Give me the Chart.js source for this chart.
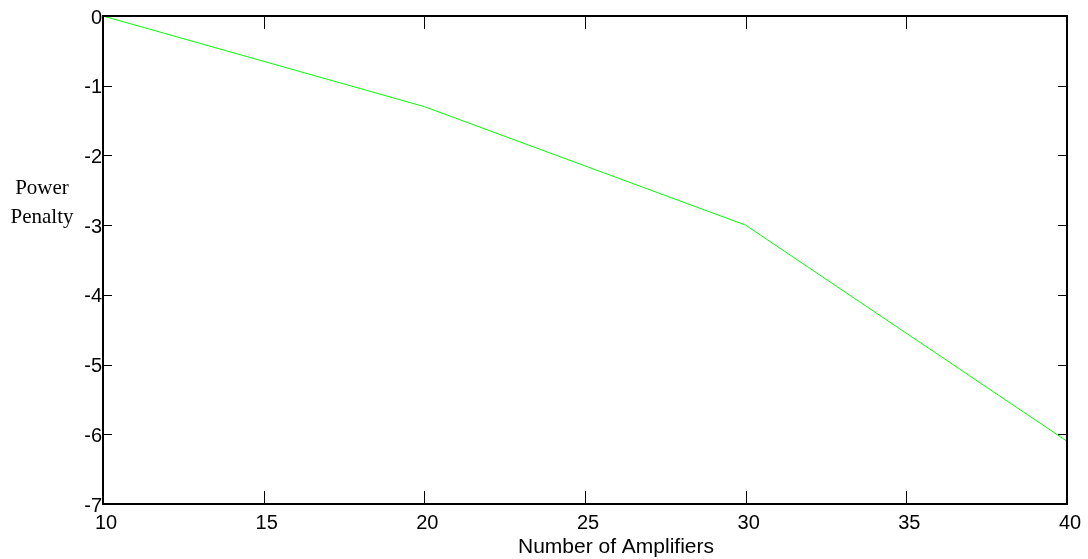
<!DOCTYPE html>
<html><head><meta charset="utf-8">
<script src="https://cdn.jsdelivr.net/npm/chart.js@4/dist/chart.umd.min.js"></script>
<style>html,body{margin:0;padding:0;background:#fff}#wrap{width:1088px;height:559px}</style>
</head><body><div id="wrap"><canvas id="c" width="1088" height="559"></canvas></div>
<script>
const amplifiers = [10, 20, 30, 40];
const powerPenalty = [0, -1.3, -3, -6.1];
const xTickValues = [10, 15, 20, 25, 30, 35, 40];
const yTickValues = [0, -1, -2, -3, -4, -5, -6, -7];
const xTitle = 'Number of Amplifiers';
const yTitleLines = ['Power', 'Penalty'];

const boxAndTicks = {
  id: 'boxAndTicks',
  afterDraw(chart) {
    const ctx = chart.ctx, a = chart.chartArea;
    const xs = chart.scales.x, ys = chart.scales.y;
    ctx.save();
    ctx.strokeStyle = '#000';
    ctx.lineWidth = 1;
    ctx.beginPath();
    xTickValues.forEach(v => {
      const px = Math.round(xs.getPixelForValue(v)) + 0.5;
      ctx.moveTo(px, a.bottom); ctx.lineTo(px, a.bottom - 13);
      ctx.moveTo(px, a.top); ctx.lineTo(px, a.top + 13);
    });
    yTickValues.forEach(v => {
      const py = Math.round(ys.getPixelForValue(v)) + 0.5;
      ctx.moveTo(a.left, py); ctx.lineTo(a.left + 9, py);
      ctx.moveTo(a.right, py); ctx.lineTo(a.right - 9, py);
    });
    ctx.stroke();
    ctx.lineWidth = 2;
    ctx.strokeRect(a.left, a.top, a.right - a.left, a.bottom - a.top);
    ctx.fillStyle = '#000';
    ctx.textAlign = 'center';
    ctx.textBaseline = 'alphabetic';
    ctx.font = '21px "Liberation Sans", Arial, sans-serif';
    ctx.fillText(xTitle, 616, 553);
    ctx.font = '21px "Liberation Serif", "Times New Roman", serif';
    ctx.fillText(yTitleLines[0], 42, 194);
    ctx.fillText(yTitleLines[1], 42, 223);
    ctx.restore();
  }
};

new Chart(document.getElementById('c'), {
  type: 'line',
  data: {
    datasets: [{
      data: amplifiers.map((x, i) => ({x: x, y: powerPenalty[i]})),
      borderColor: '#00ff00',
      borderWidth: 1,
      pointRadius: 0,
      tension: 0,
      fill: false
    }]
  },
  options: {
    responsive: false,
    animation: false,
    devicePixelRatio: 1,
    layout: {padding: {left: 0, right: 21, top: 16, bottom: 0}},
    plugins: {legend: {display: false}, tooltip: {enabled: false}},
    scales: {
      x: {
        type: 'linear', min: 10, max: 40,
        afterFit(s) { s.height = 55; },
        grid: {display: false, drawTicks: false},
        border: {display: false},
        ticks: {
          stepSize: 5, padding: 7, color: '#000', maxRotation: 0, labelOffset: 3,
          font: {family: '"Liberation Sans", Arial, sans-serif', size: 20}
        }
      },
      y: {
        type: 'linear', min: -7, max: 0,
        afterFit(s) { s.width = 103; },
        grid: {display: false, drawTicks: false},
        border: {display: false},
        ticks: {
          stepSize: 1, padding: 1, color: '#000', labelOffset: 2,
          font: {family: '"Liberation Sans", Arial, sans-serif', size: 20}
        }
      }
    }
  },
  plugins: [boxAndTicks]
});
</script>
</body></html>
